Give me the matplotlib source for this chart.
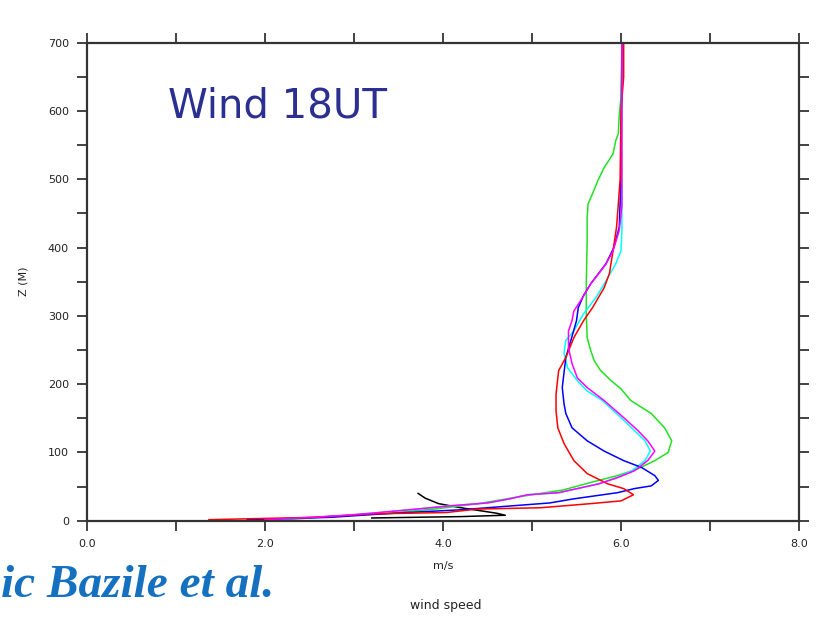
import matplotlib
matplotlib.use("Agg")
import matplotlib.pyplot as plt
from matplotlib.ticker import MultipleLocator

# ---- data (wind speed m/s vs height m) ----
red_z = [1.5, 5, 10, 12, 17, 19, 25, 29, 38, 47, 54, 69, 88, 113, 136, 161, 185, 209, 220, 239,
         268, 293, 312, 341, 362, 395, 430, 464, 500, 600, 650, 700]
red_u = [1.37, 2.57, 3.2, 4.04, 4.38, 5.10, 5.66, 6.0, 6.14, 6.03, 5.85, 5.62, 5.47, 5.36, 5.29,
         5.27, 5.27, 5.29, 5.3, 5.38, 5.47, 5.58, 5.68, 5.81, 5.87, 5.91, 5.95, 5.97, 5.99, 6.0, 6.03, 6.03]

blue_z = [1.5, 5, 9, 12, 16, 19, 26, 32, 37, 41, 47, 51, 59, 66, 78, 88, 102, 117, 136, 157, 171,
          195, 239, 270, 293, 312, 330, 347, 376, 400, 430, 500, 700]
blue_u = [1.8, 2.75, 3.2, 3.6, 4.2, 4.5, 5.2, 5.47, 5.74, 5.96, 6.15, 6.34, 6.42, 6.38, 6.23, 6.03,
          5.81, 5.62, 5.45, 5.38, 5.36, 5.34, 5.38, 5.45, 5.5, 5.52, 5.58, 5.66, 5.83, 5.92, 5.98, 6.0, 6.01]

magenta_z = [1.5, 5, 8, 11, 17, 22, 26, 32, 38, 41, 54, 63, 73, 88, 102, 117, 132, 151, 176, 195,
             209, 230, 253, 278, 293, 307, 327, 347, 362, 376, 395, 425, 460, 550, 700]
magenta_u = [2.0, 2.53, 2.92, 3.2, 3.7, 4.1, 4.5, 4.75, 4.95, 5.3, 5.75, 5.96, 6.15, 6.3, 6.38, 6.3,
             6.19, 6.03, 5.81, 5.62, 5.51, 5.45, 5.41, 5.41, 5.45, 5.47, 5.57, 5.66, 5.75, 5.83, 5.91,
             5.98, 6.01, 6.01, 6.01]

cyan_z = [1.5, 5, 8, 11, 17, 22, 26, 32, 38, 41, 54, 63, 73, 88, 102, 117, 132, 151, 176, 190, 205,
          224, 245, 264, 278, 303, 327, 351, 376, 395, 425, 500, 700]
cyan_u = [2.1, 2.55, 2.92, 3.2, 3.7, 4.1, 4.5, 4.75, 4.95, 5.3, 5.75, 5.95, 6.12, 6.27, 6.33, 6.27,
          6.15, 6.0, 5.79, 5.62, 5.51, 5.4, 5.36, 5.38, 5.47, 5.58, 5.72, 5.83, 5.94, 6.0, 6.01, 6.01, 6.01]

green_z = [1.5, 5, 10, 17, 25, 35, 45, 56, 66, 76, 88, 100, 117, 136, 157, 176, 193, 205, 220, 234,
           249, 268, 300, 350, 410, 444, 464, 479, 498, 517, 537, 556, 567, 593, 620, 700]
green_u = [2.25, 2.6, 3.3, 3.9, 4.4, 4.85, 5.35, 5.66, 5.96, 6.19, 6.38, 6.53, 6.57, 6.49, 6.34, 6.11,
           6.0, 5.89, 5.77, 5.7, 5.66, 5.62, 5.61, 5.61, 5.62, 5.62, 5.63, 5.68, 5.74, 5.81, 5.91,
           5.94, 5.97, 5.98, 6.0, 6.01]

black_z = [4, 6, 8, 11, 15, 19, 25, 33, 40]
black_u = [3.2, 4.2, 4.7, 4.6, 4.4, 4.2, 3.95, 3.8, 3.72]

x_ticks = [0.0, 2.0, 4.0, 6.0, 8.0]
x_ticklabels = ["0.0", "2.0", "4.0", "6.0", "8.0"]
y_ticks = [0, 100, 200, 300, 400, 500, 600, 700]

# ---- figure ----
fig = plt.figure(figsize=(8.19, 6.17), dpi=100)
ax = fig.add_axes([87 / 819, 1 - 520.7 / 617, 712 / 819, 478 / 617])

lw = 1.1
ax.plot(black_u, black_z, color="black", lw=lw)
ax.plot(green_u, green_z, color="#22e022", lw=lw)
ax.plot(cyan_u, cyan_z, color="#00ffff", lw=lw)
ax.plot(blue_u, blue_z, color="#0000ff", lw=lw)
ax.plot(red_u, red_z, color="#ff0000", lw=lw)
ax.plot(magenta_u, magenta_z, color="#ff00ff", lw=lw)

ax.set_xlim(0, 8)
ax.set_ylim(0, 700)
ax.set_xticks(x_ticks)
ax.set_xticklabels(x_ticklabels)
ax.set_yticks(y_ticks)
ax.xaxis.set_minor_locator(MultipleLocator(1))
ax.yaxis.set_minor_locator(MultipleLocator(50))
ax.tick_params(which="both", direction="out", length=7, width=1.2, top=True, right=True,
               labelsize=8, colors="#222222", pad=6)
for s in ax.spines.values():
    s.set_linewidth(1.6)
    s.set_color("#333333")

ax.set_xlabel("m/s", fontsize=8, color="#222222", labelpad=9)
ax.set_ylabel("Z (M)", fontsize=8, color="#222222", labelpad=14)

fig.text(168 / 819, 1 - 118 / 617, "Wind 18UT", fontsize=29, color="#2b2f92",
         ha="left", va="baseline", family="DejaVu Sans")
fig.text(1 / 819, 1 - 597 / 617, "ic Bazile et al.", fontsize=34, color="#1570c0",
         ha="left", va="baseline", family="Liberation Serif", fontweight="bold", fontstyle="italic")
fig.text(446 / 819, 1 - 605 / 617, "wind speed", fontsize=9, color="#222222",
         ha="center", va="center")

fig.savefig("out.png", dpi=100)
